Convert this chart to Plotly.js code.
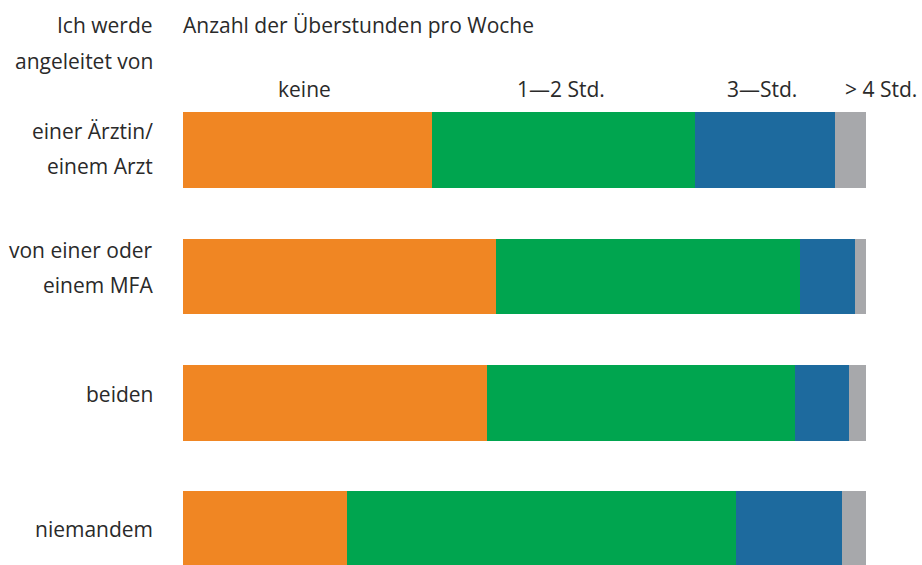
<!DOCTYPE html>
<html>
<head>
<meta charset="utf-8">
<script src="https://cdn.plot.ly/plotly-3.0.1.min.js"></script>
<style>html,body{margin:0;padding:0;background:#fff;}#chart{width:922px;height:565px;}</style>
</head>
<body>
<div id="chart"></div>
<script>
// ---- data ----
const rowLabels = ["einer Ärztin/<br>einem Arzt", "von einer oder<br>einem MFA", "beiden", "niemandem"];
const seriesNames = ["keine", "1—2 Std.", "3—Std.", "> 4 Std."];
const keine = [36.5, 45.8, 44.5, 24.0];
const std1bis2 = [38.5, 44.5, 45.1, 57.0];
const std3 = [20.5, 8.1, 7.9, 15.5];
const mehrAls4 = [4.5, 1.6, 2.5, 3.5];
const axisTitle = "Anzahl der Überstunden pro Woche";
const rowHeading = ["Ich werde", "angeleitet von"];

// ---- styling ----
const colors = ["#F08623", "#00A54F", "#1D6A9E", "#A7A8AB"];
const FONT = "'Open Sans', 'Noto Sans', sans-serif";
const FS = 21;
const TXT = "#2a2a2a";
const W = 922, H = 565, MT = 87, MB = 0, ML = 183, MR = 56;
const plotH = H - MT - MB;
const py = Y => (H - MB - Y) / plotH;
const labelNudge = [2, 9, 9, 0]; // px upward shift of row labels

const values = [keine, std1bis2, std3, mehrAls4];
const traces = values.map((v, i) => ({
  type: "bar",
  orientation: "h",
  name: seriesNames[i],
  y: rowLabels,
  x: v,
  marker: {color: colors[i], line: {width: 0}},
  hoverinfo: "skip"
}));

const annotations = [];
// axis title
annotations.push({text: axisTitle, xref: "paper", yref: "paper", x: 0, xshift: -2, y: py(25),
  xanchor: "left", yanchor: "middle", showarrow: false, font: {family: FONT, size: FS, color: TXT}});
// row heading
rowHeading.forEach((t, i) => annotations.push({text: t, xref: "paper", yref: "paper", x: 0, xshift: -28,
  y: py(25 + i * 36), xanchor: "right", yanchor: "middle", showarrow: false,
  font: {family: FONT, size: FS, color: TXT}}));
// column headers at the centers of the first row's segments
let cum = 0;
values.forEach((v, i) => {
  const mid = cum + v[0] / 2;
  cum += v[0];
  const last = i === values.length - 1;
  annotations.push({text: seriesNames[i], xref: last ? "paper" : "x", yref: "paper",
    x: last ? 1 : mid, xshift: last ? 53 : -3, y: py(89),
    xanchor: last ? "right" : "center", yanchor: "middle", showarrow: false,
    font: {family: FONT, size: FS, color: TXT}});
});
// row labels, line by line
rowLabels.forEach((lab, r) => {
  const lines = lab.split("<br>");
  const n = lines.length;
  lines.forEach((ln, k) => {
    annotations.push({text: ln, xref: "paper", yref: "y", x: 0, xshift: -28, y: r,
      yshift: -((k - (n - 1) / 2) * 35) + labelNudge[r], xanchor: "right", yanchor: "middle", showarrow: false,
      font: {family: FONT, size: FS, color: TXT}});
  });
});

const layout = {
  width: W, height: H,
  margin: {l: ML, r: MR, t: MT, b: MB, pad: 0},
  paper_bgcolor: "#fff", plot_bgcolor: "#fff",
  barmode: "stack", bargap: 0.4,
  showlegend: false,
  xaxis: {range: [0, 100], visible: false, fixedrange: true},
  yaxis: {type: "category", categoryorder: "array", categoryarray: rowLabels,
    range: [3.285, -0.5], showticklabels: false, showgrid: false, zeroline: false, fixedrange: true},
  annotations: annotations,
  font: {family: FONT, size: FS, color: TXT}
};

Plotly.newPlot("chart", traces, layout, {displayModeBar: false, staticPlot: true});
</script>
</body>
</html>
